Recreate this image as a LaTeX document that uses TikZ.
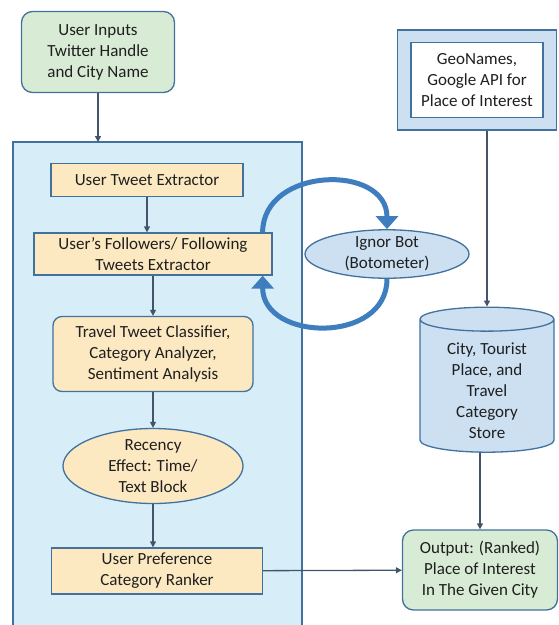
\documentclass[tikz,border=0pt]{standalone}
\usepackage{fontspec}
\setmainfont{Carlito}
\usepackage{xcolor}
\usetikzlibrary{arrows.meta, positioning, shapes.geometric}

\definecolor{edgeblue}{HTML}{41719C}
\definecolor{panelblue}{HTML}{D7EEF8}
\definecolor{boxyellow}{HTML}{FCE9C2}
\definecolor{boxgreen}{HTML}{D8EBD5}
\definecolor{lightblue}{HTML}{CCE0F2}
\definecolor{linkgray}{HTML}{44546A}
\definecolor{loopblue}{HTML}{3E7DBE}

\begin{document}
\begin{tikzpicture}[
        x=1pt, y=-1pt,
        every node/.style={draw=edgeblue, line width=1.3pt, align=center, text=black!88,
            font=\fontsize{17}{21}\selectfont, inner sep=2pt},
        step box/.style={rectangle, fill=boxyellow},
        round box/.style={rectangle, rounded corners=9pt, fill=boxyellow},
        end box/.style={rectangle, rounded corners=11pt, fill=boxgreen},
        link/.style={-{Triangle[width=6pt,length=6pt]}, draw=linkgray, line width=1.3pt},
        loop/.style={-{Triangle[width=22pt,length=13pt]}, draw=loopblue, line width=5pt}
    ]
    \useasboundingbox (0,0) rectangle (559,625);

    % Panel
    \fill[panelblue] (13,142) rectangle (302,640);
    \draw[edgeblue, line width=1.3pt] (13,640) -- (13,142) -- (302,142) -- (302,640);
    \coordinate (panel) at (98,142);

    % Nodes
    \node[end box, minimum width=153pt, minimum height=81pt] (inputs) at (98,52)
        {User Inputs\\Twitter Handle\\and City Name};
    \node[step box, minimum width=192pt, minimum height=33pt] (tweets) at (147,180)
        {User Tweet Extractor};
    \node[step box, minimum width=238pt, minimum height=42pt] (follow) at (153,254)
        {User’s Followers/ Following\\Tweets Extractor};
    \node[round box, minimum width=200pt, minimum height=75pt] (classify) at (153,354)
        {Travel Tweet Classifier,\\Category Analyzer,\\Sentiment Analysis};
    \node[ellipse, fill=boxyellow, minimum width=180pt, minimum height=74pt, inner sep=0pt] (recency) at (153,466)
        {Recency\\Effect: Time/\\Text Block};
    \node[step box, minimum width=211pt, minimum height=46pt] (ranker) at (157,571)
        {User Preference\\Category Ranker};
    \node[ellipse, fill=lightblue, minimum width=164pt, minimum height=43pt, inner sep=0pt] (bot) at (387,254)
        {Ignor Bot\\(Botometer)};
    \node[rectangle, fill=lightblue, minimum width=159pt, minimum height=100pt] (geoframe) at (477,80) {};
    \node[rectangle, fill=white, minimum width=132pt, minimum height=75pt, inner sep=0pt] (geo) at (477,80)
        {GeoNames,\\Google API for\\Place of Interest};
    \node[cylinder, shape border rotate=90, aspect=0.3, fill=lightblue, minimum width=134pt,
        minimum height=145pt, inner sep=0pt] (store) at (487,386)
        {\rule{0pt}{22pt}City, Tourist\\Place, and\\Travel\\Category\\Store};
    \node[end box, minimum width=155pt, minimum height=80pt] (output) at (480,570)
        {Output: (Ranked)\\Place of Interest\\In The Given City};

    % Arrows
    \draw[link] (inputs) -- (panel);
    \draw[link] (tweets) -- (tweets |- follow.north);
    \draw[link] (follow) -- (follow |- classify.north);
    \draw[link] (classify) -- (recency);
    \draw[link] (recency) -- (recency |- ranker.north);
    \draw[link] (ranker) -- (output);
    \draw[link] (geoframe.south -| store.north) -- (store.north);
    \draw[link] (store.south -| output.north) -- (output.north);
    \draw[loop] ([xshift=-10pt]follow.north east) to[out=90, in=90, looseness=1.35] (bot.north);
    \draw[loop] (bot.south) to[out=-90, in=-90, looseness=1.35] ([xshift=-10pt]follow.south east);
\end{tikzpicture}
\end{document}
